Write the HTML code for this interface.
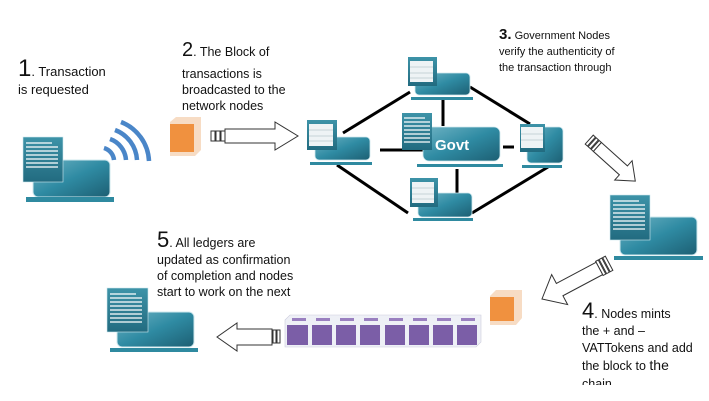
<!DOCTYPE html>
<html><head><meta charset="utf-8"><style>
body{margin:0;background:#fff;width:709px;height:401px;overflow:hidden}
svg{display:block}
text{font-family:"Liberation Sans",sans-serif;fill:#111}
</style></head><body>
<svg width="709" height="401" viewBox="0 0 709 401" xmlns="http://www.w3.org/2000/svg">
<defs>
<linearGradient id="mg" x1="0" y1="0" x2="1" y2="1">
<stop offset="0" stop-color="#6fb3c4"/><stop offset="0.5" stop-color="#2f8ba3"/><stop offset="1" stop-color="#1d5f73"/></linearGradient>
<linearGradient id="dg" x1="0" y1="0" x2="0" y2="1">
<stop offset="0" stop-color="#3d93a8"/><stop offset="1" stop-color="#226b80"/></linearGradient>
<g id="doclines"></g>
</defs>

<!-- network lines -->
<g stroke="#000" stroke-width="3">
<line x1="343" y1="133" x2="410" y2="92"/>
<line x1="337" y1="165" x2="408" y2="213"/>
<line x1="470" y1="87" x2="530" y2="124"/>
<line x1="472" y1="213" x2="548" y2="167"/>
<line x1="443" y1="100" x2="443" y2="126"/>
<line x1="457" y1="169" x2="457" y2="193"/>
<line x1="380" y1="150" x2="423" y2="150"/>
<line x1="503" y1="147" x2="514" y2="147"/>
</g>

<!-- computer template usage via function-like groups -->
<!-- Computer 1 -->
<g>
<rect x="33" y="160" width="77" height="37" rx="5" fill="url(#mg)" stroke="#cfe8ee" stroke-width="1"/>
<rect x="26" y="197" width="88" height="5" fill="#2f8aa0"/>
<rect x="23" y="137" width="40" height="45" fill="url(#dg)" stroke="#cfe8ee" stroke-width="0.6"/>
<g stroke="#fff" stroke-width="1.3"><line x1="26" y1="143" x2="52" y2="143"/><line x1="26" y1="147" x2="58" y2="147"/><line x1="26" y1="151" x2="58" y2="151"/><line x1="26" y1="155" x2="58" y2="155"/><line x1="26" y1="159" x2="58" y2="159"/><line x1="26" y1="163" x2="58" y2="163"/><line x1="26" y1="167" x2="58" y2="167"/></g>
</g>
<!-- wifi -->
<g fill="none" stroke="#4a86c8" stroke-width="4.5">
<path d="M104 148 A14 14 0 0 1 114 160"/>
<path d="M110 139 A24 24 0 0 1 126 160"/>
<path d="M115 130 A34 34 0 0 1 137 160"/>
<path d="M121 122 A44 44 0 0 1 149 161"/>
</g>
<!-- orange cube 1 -->
<g>
<path d="M170 122 L176 117 L201 117 L201 150 L195 156 L170 156 Z" fill="#f7dcc4"/>
<rect x="170" y="124" width="24" height="28" fill="#f0913f"/>
</g>
<!-- arrow 1 -->
<g fill="#fff" stroke="#333" stroke-width="1">
<rect x="211" y="131" width="4" height="10"/><rect x="216" y="131" width="4" height="10"/><rect x="221" y="131" width="4" height="10"/>
<path d="M225 129 L275 129 L275 122 L298 136 L275 150 L275 143 L225 143 Z"/>
</g>

<!-- network nodes -->
<!-- left node -->
<g>
<rect x="315" y="137" width="55" height="23" rx="4" fill="url(#mg)" stroke="#cfe8ee" stroke-width="0.8"/>
<rect x="310" y="162" width="62" height="3" fill="#2f8aa0"/>
<rect x="307" y="120" width="30" height="30" fill="url(#dg)"/>
<rect x="309" y="124" width="24" height="22" fill="#eef3f5"/>
<g stroke="#b8c8cc" stroke-width="0.8"><line x1="309" y1="130" x2="333" y2="130"/><line x1="309" y1="136" x2="333" y2="136"/><line x1="309" y1="141" x2="333" y2="141"/></g>
</g>
<!-- top node -->
<g>
<rect x="415" y="73" width="55" height="22" rx="4" fill="url(#mg)" stroke="#cfe8ee" stroke-width="0.8"/>
<rect x="411" y="97" width="62" height="3" fill="#2f8aa0"/>
<rect x="408" y="57" width="29" height="29" fill="url(#dg)"/>
<rect x="410" y="61" width="23" height="21" fill="#eef3f5"/>
<g stroke="#b8c8cc" stroke-width="0.8"><line x1="410" y1="67" x2="433" y2="67"/><line x1="410" y1="73" x2="433" y2="73"/><line x1="410" y1="78" x2="433" y2="78"/></g>
</g>
<!-- govt -->
<g>
<rect x="423" y="127" width="77" height="34" rx="6" fill="url(#mg)" stroke="#cfe8ee" stroke-width="0.8"/>
<rect x="417" y="164" width="86" height="3" fill="#2f8aa0"/>
<rect x="402" y="113" width="30" height="37" fill="url(#dg)"/>
<g stroke="#fff" stroke-width="1.3"><line x1="404" y1="118" x2="425" y2="118"/><line x1="404" y1="122" x2="430" y2="122"/><line x1="404" y1="126" x2="430" y2="126"/><line x1="404" y1="130" x2="430" y2="130"/><line x1="404" y1="134" x2="430" y2="134"/><line x1="404" y1="138" x2="430" y2="138"/><line x1="404" y1="142" x2="430" y2="142"/></g>
<text x="435" y="150" font-size="15" font-weight="bold" style="fill:#fff">Govt</text>
</g>
<!-- right node -->
<g>
<rect x="527" y="127" width="36" height="36" rx="4" fill="url(#mg)" stroke="#cfe8ee" stroke-width="0.8"/>
<rect x="522" y="165" width="40" height="3" fill="#2f8aa0"/>
<rect x="520" y="124" width="25" height="28" fill="url(#dg)"/>
<rect x="521" y="127" width="22" height="21" fill="#eef3f5"/>
<g stroke="#b8c8cc" stroke-width="0.8"><line x1="521" y1="134" x2="543" y2="134"/><line x1="521" y1="140" x2="543" y2="140"/></g>
</g>
<!-- bottom node -->
<g>
<rect x="418" y="193" width="54" height="24" rx="4" fill="url(#mg)" stroke="#cfe8ee" stroke-width="0.8"/>
<rect x="413" y="218" width="60" height="3" fill="#2f8aa0"/>
<rect x="410" y="178" width="28" height="29" fill="url(#dg)"/>
<rect x="412" y="182" width="22" height="21" fill="#eef3f5"/>
<g stroke="#b8c8cc" stroke-width="0.8"><line x1="412" y1="188" x2="434" y2="188"/><line x1="412" y1="194" x2="434" y2="194"/><line x1="412" y1="199" x2="434" y2="199"/></g>
</g>

<!-- arrow down-right -->
<g transform="translate(613,161) rotate(42)" fill="#fff" stroke="#333" stroke-width="1">
<rect x="-32" y="-6" width="3" height="12"/><rect x="-28" y="-6" width="3" height="12"/><rect x="-24" y="-6" width="3" height="12"/>
<path d="M-21 -6 L14 -6 L14 -13 L30 0 L14 13 L14 6 L-21 6 Z"/>
</g>

<!-- right computer -->
<g>
<rect x="620" y="217" width="77" height="38" rx="5" fill="url(#mg)" stroke="#cfe8ee" stroke-width="1"/>
<rect x="614" y="256" width="89" height="4" fill="#2f8aa0"/>
<rect x="610" y="195" width="40" height="45" fill="url(#dg)" stroke="#cfe8ee" stroke-width="0.6"/>
<g stroke="#fff" stroke-width="1.3"><line x1="613" y1="201" x2="639" y2="201"/><line x1="613" y1="205" x2="645" y2="205"/><line x1="613" y1="209" x2="645" y2="209"/><line x1="613" y1="213" x2="645" y2="213"/><line x1="613" y1="217" x2="645" y2="217"/><line x1="613" y1="221" x2="645" y2="221"/><line x1="613" y1="225" x2="645" y2="225"/><line x1="613" y1="229" x2="645" y2="229"/></g>
</g>

<!-- arrow down-left -->
<g transform="translate(572,283) rotate(152)" fill="#fff" stroke="#333" stroke-width="1">
<rect x="-42" y="-8" width="3" height="16"/><rect x="-38" y="-8" width="3" height="16"/><rect x="-34" y="-8" width="3" height="16"/>
<path d="M-31 -7 L14 -7 L14 -17 L34 0 L14 17 L14 7 L-31 7 Z"/>
</g>

<!-- orange cube 2 -->
<g>
<path d="M490 296 L496 290 L522 290 L522 318 L516 325 L490 325 Z" fill="#f7dcc4"/>
<rect x="490" y="297" width="24" height="24" fill="#f0913f"/>
</g>

<!-- chain -->
<g>
<path d="M285 320 L290 315 L481 315 L481 342 L476 347 L285 347 Z" fill="#eef0f6" stroke="#ccd" stroke-width="0.6"/>
<g fill="#7b5ea7">
<rect x="287" y="325" width="21" height="20"/><rect x="312" y="325" width="20" height="20"/><rect x="336" y="325" width="20" height="20"/><rect x="360" y="325" width="20" height="20"/><rect x="385" y="325" width="20" height="20"/><rect x="409" y="325" width="20" height="20"/><rect x="433" y="325" width="20" height="20"/><rect x="457" y="325" width="20" height="20"/>
</g>
<g fill="#9a80c0">
<rect x="292" y="318" width="14" height="3"/><rect x="316" y="318" width="14" height="3"/><rect x="340" y="318" width="14" height="3"/><rect x="364" y="318" width="14" height="3"/><rect x="389" y="318" width="14" height="3"/><rect x="413" y="318" width="14" height="3"/><rect x="437" y="318" width="14" height="3"/><rect x="461" y="318" width="14" height="3"/>
</g>
</g>
<!-- arrow left -->
<g fill="#fff" stroke="#333" stroke-width="1">
<rect x="273" y="330" width="3" height="13"/><rect x="277" y="330" width="3" height="13"/>
<path d="M272 329 L237 329 L237 323 L217 337 L237 351 L237 345 L272 345 Z"/>
</g>

<!-- bottom-left computer -->
<g>
<rect x="117" y="312" width="77" height="35" rx="5" fill="url(#mg)" stroke="#cfe8ee" stroke-width="1"/>
<rect x="110" y="348" width="88" height="4" fill="#2f8aa0"/>
<rect x="107" y="288" width="41" height="44" fill="url(#dg)" stroke="#cfe8ee" stroke-width="0.6"/>
<g stroke="#fff" stroke-width="1.3"><line x1="110" y1="294" x2="136" y2="294"/><line x1="110" y1="298" x2="142" y2="298"/><line x1="110" y1="302" x2="142" y2="302"/><line x1="110" y1="306" x2="142" y2="306"/><line x1="110" y1="310" x2="142" y2="310"/><line x1="110" y1="314" x2="142" y2="314"/><line x1="110" y1="318" x2="142" y2="318"/><line x1="110" y1="322" x2="142" y2="322"/></g>
</g>

<!-- texts -->
<text x="18" y="76" font-size="13"><tspan font-size="24">1</tspan>. Transaction</text>
<text x="18" y="94" font-size="13">is requested</text>
<text x="182" y="56" font-size="12.5"><tspan font-size="20">2</tspan>. The Block of</text>
<text x="182" y="78" font-size="12.5">transactions is</text>
<text x="182" y="94" font-size="12.5">broadcasted to the</text>
<text x="182" y="110" font-size="12.5">network nodes</text>
<text x="499" y="39" font-size="11"><tspan font-size="15" font-weight="bold">3.</tspan> Government Nodes</text>
<text x="499" y="55" font-size="11">verify the authenticity of</text>
<text x="499" y="71" font-size="11">the transaction through</text>
<text x="582" y="318" font-size="12.5"><tspan font-size="22">4</tspan>. Nodes mints</text>
<text x="582" y="335" font-size="12.5">the + and –</text>
<text x="582" y="352" font-size="12.5">VATTokens and add</text>
<text x="582" y="370" font-size="12.5">the block to <tspan font-size="14">the</tspan></text>
<text x="582" y="388" font-size="12.5">chain</text>
<rect x="575" y="385" width="134" height="16" fill="#fff"/>
<text x="157" y="247" font-size="12.5"><tspan font-size="22">5</tspan>. All ledgers are</text>
<text x="157" y="264" font-size="12.5">updated as confirmation</text>
<text x="157" y="280" font-size="12.5">of completion and nodes</text>
<text x="157" y="296" font-size="12.5">start to work on the next</text>
</svg>
</body></html>
